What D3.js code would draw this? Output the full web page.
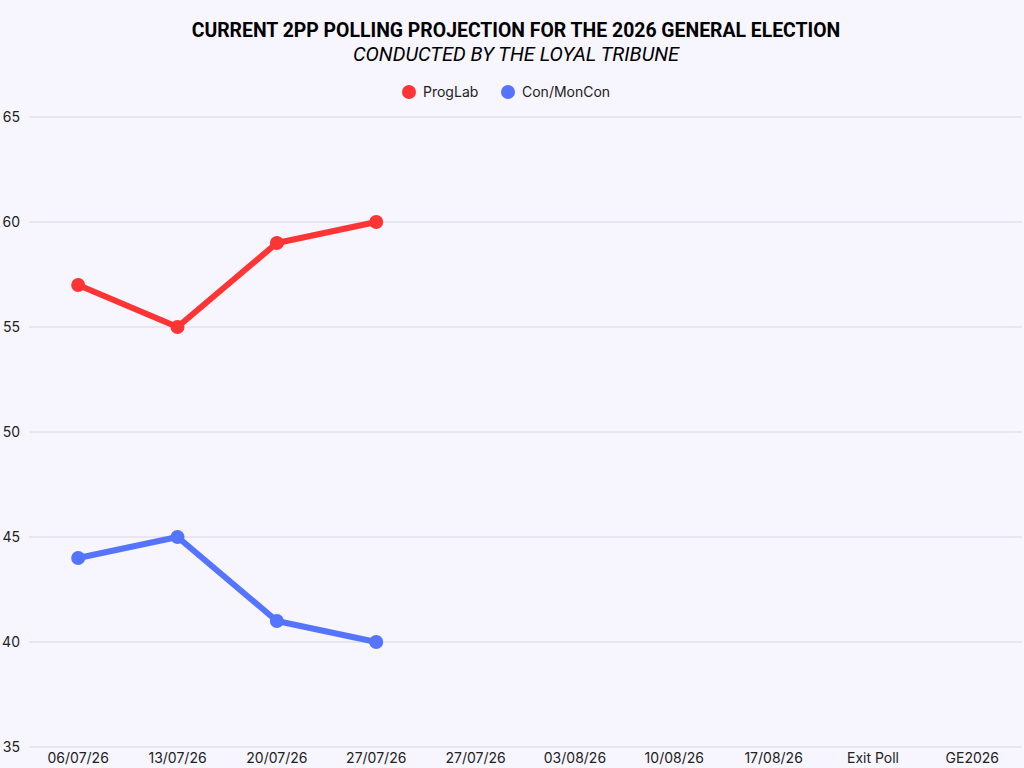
<!DOCTYPE html>
<html><head><meta charset="utf-8">
<script src="https://cdn.jsdelivr.net/npm/d3@7/dist/d3.min.js"></script>
<style>
html,body{margin:0;padding:0;background:#F7F5FE;}
svg{display:block;}
</style></head>
<body>
<script>
const categories = ["06/07/26","13/07/26","20/07/26","27/07/26","27/07/26 ","03/08/26","10/08/26","17/08/26","Exit Poll","GE2026"];
const progLab = [57, 55, 59, 60];
const conMonCon = [44, 45, 41, 40];
const yTicks = [35, 40, 45, 50, 55, 60, 65];
const seriesNames = ["ProgLab", "Con/MonCon"];
const seriesColors = ["#FF3535", "#5574FF"];

const W = 1024, H = 768;
const svg = d3.select("body").append("svg").attr("width", W).attr("height", H);
svg.append("rect").attr("width", W).attr("height", H).attr("fill", "#F7F5FE");

const x = d3.scaleBand().domain(categories).range([28.5, 1022]).padding(0);
const y = d3.scaleLinear().domain([35, 65]).range([747, 117]);
const cx = c => x(c) + x.bandwidth() / 2;

// gridlines
svg.append("g").selectAll("line").data(yTicks).join("line")
  .attr("x1", 29).attr("x2", 1022)
  .attr("y1", d => y(d)).attr("y2", d => y(d))
  .attr("stroke", "#DAD7E2").attr("stroke-width", 1);

// y axis labels
const yAxis = d3.axisLeft(y).tickValues(yTicks).tickSize(0).tickPadding(0);
const gy = svg.append("g").attr("transform", "translate(20,0)").call(yAxis);
gy.select(".domain").remove();
gy.selectAll("text").attr("font-family", "Inter, 'Noto Sans', sans-serif").attr("font-size", 14).attr("fill", "#222");

// x axis labels
const xAxis = d3.axisBottom(x).tickSize(0).tickPadding(0).tickFormat(d => d.trim());
const gx = svg.append("g").attr("transform", "translate(0,753)").call(xAxis);
gx.select(".domain").remove();
gx.selectAll("text").attr("font-family", "Inter, 'Noto Sans', sans-serif").attr("font-size", 14).attr("fill", "#222");

// lines
const seriesData = [progLab, conMonCon];
const line = d3.line().x((d, i) => cx(categories[i])).y(d => y(d));
seriesData.forEach((s, k) => {
  svg.append("path").datum(s).attr("d", line)
    .attr("fill", "none").attr("stroke", seriesColors[k]).attr("stroke-width", 6)
    .attr("stroke-linejoin", "round").attr("stroke-linecap", "round");
  svg.append("g").selectAll("circle").data(s).join("circle")
    .attr("cx", (d, i) => cx(categories[i])).attr("cy", d => y(d)).attr("r", 7)
    .attr("fill", seriesColors[k]);
});

// title
svg.append("text").attr("x", 516).attr("y", 37).attr("text-anchor", "middle")
  .attr("font-family", "Roboto, 'Liberation Sans', sans-serif").attr("font-weight", "bold")
  .attr("font-size", 19.4).attr("fill", "#000")
  .text("CURRENT 2PP POLLING PROJECTION FOR THE 2026 GENERAL ELECTION");
svg.append("text").attr("x", 516).attr("y", 61).attr("text-anchor", "middle")
  .attr("font-family", "Roboto, 'Liberation Sans', sans-serif").attr("font-style", "italic")
  .attr("font-size", 20).attr("fill", "#000")
  .text("CONDUCTED BY THE LOYAL TRIBUNE");

// legend
const legendX = [409, 508];
seriesNames.forEach((n, k) => {
  svg.append("circle").attr("cx", legendX[k]).attr("cy", 92).attr("r", 7).attr("fill", seriesColors[k]);
  svg.append("text").attr("x", legendX[k] + 14).attr("y", 97)
    .attr("font-family", "Inter, 'Noto Sans', sans-serif").attr("font-size", 14).attr("fill", "#222").text(n);
});
</script>
</body></html>
